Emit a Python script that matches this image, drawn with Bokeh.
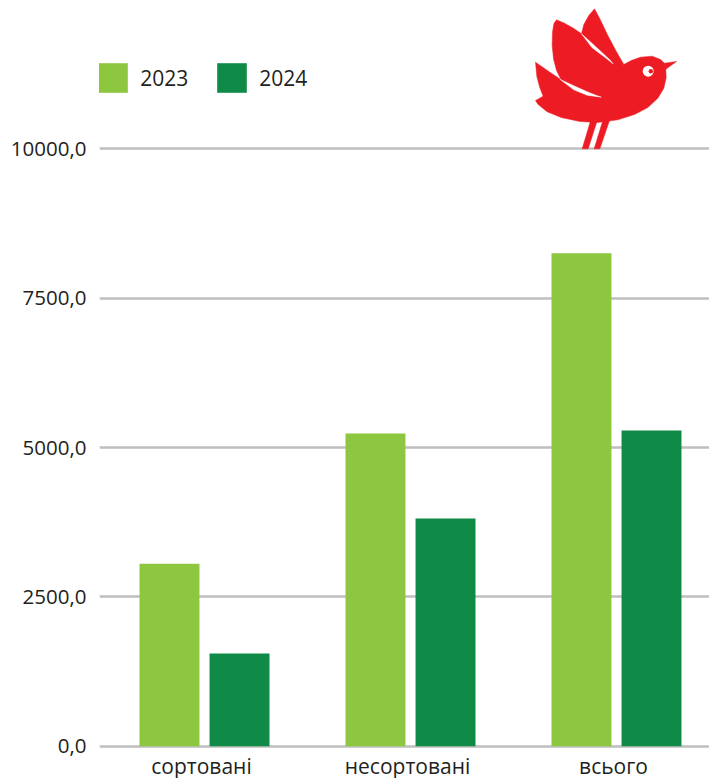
from bokeh.plotting import figure
from bokeh.models import Range1d, FixedTicker, Legend, LegendItem, ColumnDataSource
from bokeh.core.properties import value
from bokeh.embed import file_html
from bokeh.resources import INLINE

# ---- data ----
categories = ["сортовані", "несортовані", "всього"]
years = ["2023", "2024"]
values_2023 = [3055, 5235, 8250]
values_2024 = [1550, 3810, 5285]
y_ticks = [0, 2500, 5000, 7500, 10000]
y_tick_labels = ["0,0", "2500,0", "5000,0", "7500,0", "10000,0"]

C23 = "#8DC63F"
C24 = "#108A47"
RED = "#ED1C24"
TXT = "#231F20"
GRID = "#BFBFBF"
FONT = "Open Sans"

# ---- geometry ----
W, H = 709, 778
BL, BB = 99, 0
PX_PER_UNIT_Y = 0.05974          # screen px per value unit
ZERO_PX = 745.7                  # screen row of the value 0
X0, X1 = -0.0097, 2.9515
Y1 = ZERO_PX / PX_PER_UNIT_Y
Y0 = -(H - ZERO_PX) / PX_PER_UNIT_Y

p = figure(width=W, height=H, output_backend="svg", toolbar_location=None,
           x_range=Range1d(X0, X1), y_range=Range1d(Y0, Y1),
           min_border_left=BL, min_border_right=0, min_border_top=0,
           min_border_bottom=BB)
p.outline_line_color = None
p.background_fill_color = "white"
p.border_fill_color = "white"

xs = [i + 0.5 for i in range(len(categories))]
off = 0.17
bw = 0.291
src = ColumnDataSource(dict(x23=[x - off for x in xs], x24=[x + off for x in xs],
                            v23=values_2023, v24=values_2024))
r1 = p.vbar(x="x23", top="v23", bottom=0, width=bw, source=src,
            fill_color=C23, line_color=None)
r2 = p.vbar(x="x24", top="v24", bottom=0, width=bw, source=src,
            fill_color=C24, line_color=None)

# y axis
p.yaxis.ticker = FixedTicker(ticks=y_ticks)
p.yaxis.major_label_overrides = {t: l for t, l in zip(y_ticks, y_tick_labels)}
ax = p.yaxis[0]
ax.axis_line_color = None
ax.major_tick_line_color = None
ax.minor_tick_line_color = None
ax.major_tick_out = 0
ax.major_tick_in = 0
ax.major_label_text_font = FONT
ax.major_label_text_font_size = "20.5px"
ax.major_label_text_color = TXT
ax.major_label_standoff = 13
p.xaxis.visible = False

# category labels just below the zero line
label_y = -(751 - ZERO_PX) / PX_PER_UNIT_Y
p.text(x=xs, y=[label_y] * len(xs), text=categories, x_offset=-3,
       text_align="center", text_baseline="top",
       text_font=value(FONT), text_font_size="21px", text_color=TXT)

p.xgrid.grid_line_color = None
p.ygrid.ticker = FixedTicker(ticks=y_ticks)
p.ygrid.grid_line_color = GRID
p.ygrid.grid_line_width = 2.5

# ---- decorative bird logo (pixel sketch converted to data space) ----
def to_data(zx, zy):
    px = 520 + zx / 3.0
    py = zy / 3.0
    dx = X0 + (px - BL) * (X1 - X0) / (W - BL)
    dy = Y1 - py * (Y1 - Y0) / (H - BB)
    return dx, dy

def poly(pts):
    c = [to_data(a, b) for a, b in pts]
    return [q[0] for q in c], [q[1] for q in c]

body = [(45,300),(68,287),(58,262),(49,228),(45,185),(85,213),(122,238),(108,210),
        (99,175),(95,135),(96,95),(100,70),(108,58),(132,68),(160,84),(183,100),
        (190,72),(205,45),(222,25),(238,55),(262,105),(287,152),(310,192),(332,180),
        (360,170),(395,167),(420,177),(432,188),(468,183),(436,206),(437,232),
        (430,263),(412,293),(382,321),(342,342),(292,358),(232,366),(178,363),
        (122,351),(80,334),(52,311)]
leg1 = [(212,355),(232,355),(203,445),(185,445)]
leg2 = [(247,360),(267,360),(238,445),(221,445)]
gap1 = [(118,236),(160,256),(205,276),(242,290),(200,284),(160,268)]
gap2 = [(183,100),(225,138),(268,178),(278,190),(255,172),(215,142)]

for shape in (leg1, leg2, body):
    bx, by = poly(shape)
    p.patch(bx, by, fill_color=RED, line_color=RED, line_width=0.5)
for shape in (gap1, gap2):
    bx, by = poly(shape)
    p.patch(bx, by, fill_color="white", line_color="white", line_width=0.5)
ex, ey = to_data(383, 212)
p.scatter([ex], [ey], size=11, fill_color="white", line_color=None)
ex2, ey2 = to_data(391, 212)
p.scatter([ex2], [ey2], size=4.5, fill_color=RED, line_color=None)

# ---- legend ----
legend = Legend(items=[LegendItem(label=years[0], renderers=[r1]),
                       LegendItem(label=years[1], renderers=[r2])],
                orientation="horizontal", location=(-4.75, H - 92.7 - 3.75),
                glyph_width=37, glyph_height=37, label_standoff=9, spacing=25,
                padding=0, margin=0, border_line_alpha=0, background_fill_alpha=0,
                label_text_font=FONT, label_text_font_size="21px",
                label_text_color=TXT, label_text_baseline="middle")
p.add_layout(legend)

open("out.html", "w").write(file_html(p, INLINE))
